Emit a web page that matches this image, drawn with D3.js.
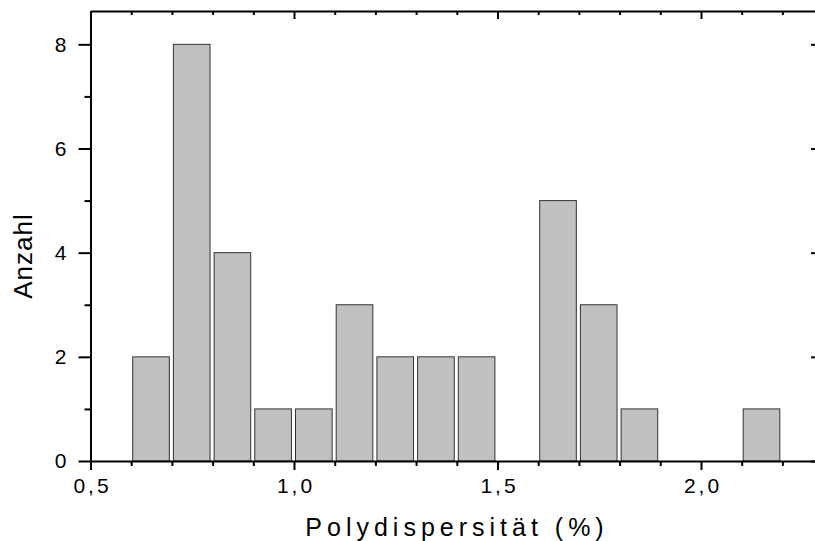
<!DOCTYPE html>
<html>
<head>
<meta charset="utf-8">
<script src="https://cdn.jsdelivr.net/npm/d3@7"></script>
<style>
  body { margin: 0; background: #fff; }
  svg { display: block; font-family: 'Liberation Sans', Arial, sans-serif; }
  .axis .domain { stroke: #000; stroke-width: 2; }
  .axis line { stroke: #000; stroke-width: 2; }
  .axis text { fill: #000; font-size: 21px; }
</style>
</head>
<body>
<svg width="815" height="541"></svg>
<script>
const binStarts = [0.6, 0.7, 0.8, 0.9, 1.0, 1.1, 1.2, 1.3, 1.4, 1.5, 1.6, 1.7, 1.8, 1.9, 2.0, 2.1];
const counts    = [2,   8,   4,   1,   1,   3,   2,   2,   2,   0,   5,   3,   1,   0,   0,   1];
const xMajor = [0.5, 1.0, 1.5, 2.0];
const xMinor = [0.6, 0.7, 0.8, 0.9, 1.1, 1.2, 1.3, 1.4, 1.6, 1.7, 1.8, 1.9, 2.1, 2.2];
const yMajor = [0, 2, 4, 6, 8];
const yMinor = [1, 3, 5, 7];
const xAxisLabelText = 'Polydispersität (%)';
const yAxisLabelText = 'Anzahl';

const svg = d3.select('svg');

const plotLeft = 90.5, plotTop = 11, plotBottom = 461;
const xScale = d3.scaleLinear().domain([0.5, 2.29]).range([plotLeft, plotLeft + 1.79 * 407]);
const yScale = d3.scaleLinear().domain([0, 8.64]).range([plotBottom, plotTop]);
const plotRight = xScale.range()[1];

const fmt = d => d3.format('.1f')(d).replace('.', ',');

// bars
const binWidth = 0.09;
svg.append('g')
  .selectAll('rect')
  .data(binStarts.map((b, i) => ({ b, c: counts[i] })).filter(d => d.c > 0))
  .join('rect')
    .attr('x', d => xScale(d.b) + 1.5)
    .attr('y', d => yScale(d.c))
    .attr('width', d => xScale(d.b + binWidth) - xScale(d.b))
    .attr('height', d => yScale(0) - yScale(d.c))
    .attr('fill', '#c0c0c0')
    .attr('stroke', '#333')
    .attr('stroke-width', 1);

// bottom axis
const xAxisG = svg.append('g').attr('class', 'axis')
  .attr('transform', `translate(0,${plotBottom})`)
  .call(d3.axisBottom(xScale).tickValues(xMajor).tickSize(9).tickSizeOuter(0).tickPadding(8).tickFormat(fmt));
xAxisG.selectAll('text').attr('letter-spacing', '3px').attr('dx', '1.5px');
svg.append('g').attr('class', 'axis')
  .attr('transform', `translate(0,${plotBottom})`)
  .call(d3.axisBottom(xScale).tickValues(xMinor).tickSize(5).tickSizeOuter(0).tickFormat(''))
  .select('.domain').remove();

// top axis (inward ticks)
svg.append('g').attr('class', 'axis')
  .attr('transform', `translate(0,${plotTop})`)
  .call(d3.axisTop(xScale).tickValues(xMajor).tickSize(-8).tickSizeOuter(0).tickFormat(''));
svg.append('g').attr('class', 'axis')
  .attr('transform', `translate(0,${plotTop})`)
  .call(d3.axisTop(xScale).tickValues(xMinor).tickSize(-4).tickSizeOuter(0).tickFormat(''))
  .select('.domain').remove();

// left axis
svg.append('g').attr('class', 'axis')
  .attr('transform', `translate(${plotLeft},0)`)
  .call(d3.axisLeft(yScale).tickValues(yMajor).tickSize(12).tickSizeOuter(0).tickPadding(12).tickFormat(d3.format('d')));
svg.append('g').attr('class', 'axis')
  .attr('transform', `translate(${plotLeft},0)`)
  .call(d3.axisLeft(yScale).tickValues(yMinor).tickSize(6).tickSizeOuter(0).tickFormat(''))
  .select('.domain').remove();

// right axis (inward ticks), frame edge falls just outside the picture
svg.append('g').attr('class', 'axis')
  .attr('transform', `translate(${plotRight},0)`)
  .call(d3.axisRight(yScale).tickValues(yMajor).tickSize(-8).tickSizeOuter(0).tickFormat(''));

svg.append('text')
  .attr('x', 457)
  .attr('y', 536)
  .attr('text-anchor', 'middle')
  .attr('font-size', '25px')
  .attr('letter-spacing', '5px')
  .text(xAxisLabelText);

svg.append('text')
  .attr('transform', `translate(32,256) rotate(-90)`)
  .attr('text-anchor', 'middle')
  .attr('font-size', '26px')
  .attr('letter-spacing', '1px')
  .text(yAxisLabelText);
</script>
</body>
</html>
